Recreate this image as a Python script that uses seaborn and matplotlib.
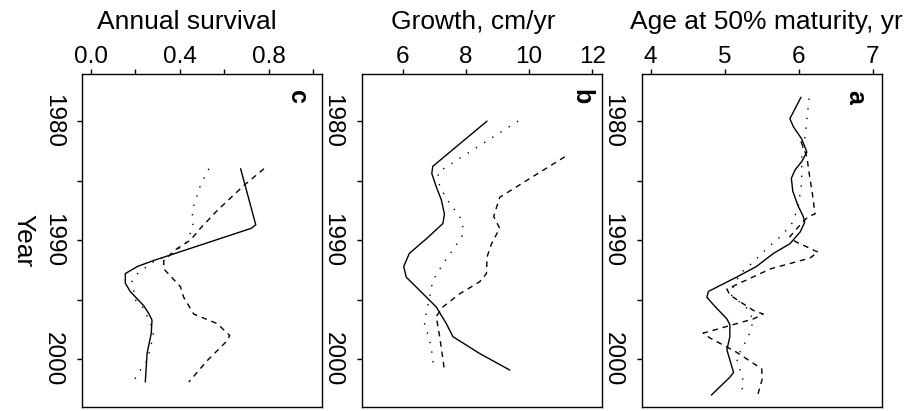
import numpy as np
import pandas as pd
import matplotlib
matplotlib.use("Agg")
import matplotlib.pyplot as plt
import seaborn as sns

# --- panel c: annual survival ---
c_solid_years = [1984.0, 1988.7, 1989.0, 1991.7, 1992.2, 1992.8, 1993.6, 1994.3, 1995.5, 1996.2, 1996.7, 1997.8, 1999.5, 2001.9]
c_solid_vals = [0.674, 0.742, 0.722, 0.283, 0.21, 0.155, 0.155, 0.177, 0.238, 0.262, 0.275, 0.272, 0.253, 0.245]
c_dash_years = [1984.0, 1985.4, 1987.5, 1989.0, 1990.0, 1990.7, 1991.7, 1992.4, 1993.9, 1994.8, 1996.2, 1997.0, 1998.0, 1998.5, 2000.1, 2001.9]
c_dash_vals = [0.779, 0.689, 0.569, 0.493, 0.448, 0.388, 0.328, 0.328, 0.403, 0.418, 0.463, 0.569, 0.625, 0.61, 0.524, 0.441]
c_dot_years = [1984.0, 1985.4, 1987.5, 1988.9, 1990.3, 1991.1, 1991.8, 1992.7, 1993.4, 1995.0, 1995.7, 1997.6, 1998.5, 2000.1, 2000.9, 2001.9]
c_dot_vals = [0.531, 0.493, 0.456, 0.46, 0.426, 0.366, 0.283, 0.215, 0.185, 0.2, 0.237, 0.283, 0.275, 0.253, 0.223, 0.19]

# --- panel b: growth ---
b_solid_years = [1980.0, 1983.8, 1984.4, 1985.5, 1986.6, 1987.8, 1988.6, 1989.9, 1991.1, 1992.2, 1993.1, 1994.2, 1995.6, 1997.0, 1998.1, 1999.5, 2000.9]
b_solid_vals = [8.67, 6.95, 6.92, 7.06, 7.22, 7.32, 7.27, 6.74, 6.21, 6.03, 6.11, 6.53, 7.06, 7.38, 7.59, 8.43, 9.39]
b_dash_years = [1983.0, 1984.3, 1985.7, 1986.4, 1988.0, 1989.0, 1990.3, 1991.4, 1992.8, 1993.5, 1994.5, 1995.6, 1996.4, 1998.1, 2000.9]
b_dash_vals = [11.13, 10.34, 9.49, 9.07, 8.88, 9.07, 8.81, 8.67, 8.65, 8.43, 7.8, 7.27, 7.06, 7.17, 7.32]
b_dot_years = [1980.0, 1984.3, 1985.5, 1986.9, 1988.0, 1988.7, 1989.6, 1990.8, 1992.0, 1993.4, 1994.8, 1996.2, 1997.0, 1998.4, 1999.8, 2000.8]
b_dot_vals = [9.65, 7.11, 7.17, 7.48, 7.8, 7.9, 7.89, 7.59, 7.27, 6.95, 6.85, 6.74, 6.69, 6.85, 6.95, 6.97]

# --- panel a: age at 50% maturity ---
a_solid_years = [1978.0, 1979.8, 1980.5, 1981.5, 1982.6, 1983.4, 1984.1, 1984.8, 1985.9, 1987.1, 1988.0, 1988.5, 1989.3, 1990.3, 1991.1, 1992.2, 1993.1, 1994.3, 1994.8, 1995.7, 1996.6, 1997.1, 1998.1, 1999.2, 2001.1, 2001.5, 2003.0]
a_solid_vals = [6.03, 5.88, 5.93, 6.04, 6.11, 6.04, 5.95, 5.9, 5.92, 5.99, 6.06, 6.08, 6.02, 5.88, 5.66, 5.43, 5.16, 4.78, 4.76, 4.89, 5.03, 5.07, 5.07, 5.03, 5.12, 5.07, 4.82]
a_dash_years = [1981.7, 1983.0, 1984.8, 1985.9, 1987.8, 1988.0, 1988.7, 1989.7, 1990.1, 1991.0, 1991.5, 1992.4, 1994.1, 1994.6, 1995.9, 1996.2, 1996.6, 1997.8, 1998.2, 1999.4, 2000.8, 2001.6, 2002.9]
a_dash_vals = [6.03, 6.11, 6.15, 6.18, 6.22, 6.13, 6.02, 5.88, 5.95, 6.26, 6.15, 5.62, 5.03, 5.07, 5.39, 5.52, 5.39, 4.71, 4.8, 5.16, 5.5, 5.51, 5.45]
a_dot_years = [1978.1, 1979.8, 1981.2, 1982.6, 1985.1, 1987.3, 1988.7, 1989.7, 1990.7, 1991.8, 1992.8, 1994.5, 1995.7, 1996.7, 1998.1, 1999.9, 2000.9, 2001.8, 2002.9]
a_dot_vals = [6.14, 6.11, 6.09, 6.04, 6.04, 5.99, 5.9, 5.75, 5.57, 5.39, 5.21, 5.07, 5.3, 5.39, 5.32, 5.16, 5.21, 5.25, 5.23]

c_ticks = [0.0, 0.2, 0.4, 0.6, 0.8, 1.0]
c_ticklabels = ["0.0", "", "0.4", "", "0.8", ""]
b_ticks = [6, 8, 10, 12]
b_ticklabels = ["6", "8", "10", "12"]
a_ticks = [4, 5, 6, 7]
a_ticklabels = ["4", "5", "6", "7"]
year_ticks = [1980, 1985, 1990, 1995, 2000]
year_ticklabels = ["1980", "", "1990", "", "2000"]

sns.set_theme(style="ticks")
plt.rcParams["font.family"] = ["Liberation Sans", "DejaVu Sans"]
plt.rcParams["text.color"] = "black"
plt.rcParams["xtick.color"] = "black"
plt.rcParams["ytick.color"] = "black"
plt.rcParams["axes.labelcolor"] = "black"

fig = plt.figure(figsize=(9.22, 4.11), dpi=100)

line_styles = {"solid": "-", "dash": (0, (4, 3.5)), "dot": (0, (1, 6))}

panels = [
    dict(left=0.0889, letter="c", title="Annual survival", title_x=0.436, letter_x=0.896,
         xlim=(-0.04, 1.04), ticks=c_ticks, ticklabels=c_ticklabels,
         series=[("solid", c_solid_years, c_solid_vals), ("dash", c_dash_years, c_dash_vals),
                 ("dot", c_dot_years, c_dot_vals)]),
    dict(left=0.3923, letter="b", title="Growth, cm/yr", title_x=0.464, letter_x=0.917,
         xlim=(4.7, 12.3), ticks=b_ticks, ticklabels=b_ticklabels,
         series=[("solid", b_solid_years, b_solid_vals), ("dash", b_dash_years, b_dash_vals),
                 ("dot", b_dot_years, b_dot_vals)]),
    dict(left=0.696, letter="a", title="Age at 50% maturity, yr", title_x=0.521, letter_x=0.889,
         xlim=(3.88, 7.12), ticks=a_ticks, ticklabels=a_ticklabels,
         series=[("solid", a_solid_years, a_solid_vals), ("dash", a_dash_years, a_dash_vals),
                 ("dot", a_dot_years, a_dot_vals)]),
]

for p in panels:
    ax = fig.add_axes([p["left"], 0.0097, 0.2603, 0.8102])
    for style, yrs, vals in p["series"]:
        df = pd.DataFrame({"year": yrs, "value": vals})
        sns.lineplot(data=df, x="value", y="year", sort=False, estimator=None,
                     color="black", linewidth=1.0, linestyle=line_styles[style], ax=ax)
    ax.set_xlim(*p["xlim"])
    ax.set_ylim(2004.0, 1976.05)
    ax.set_xticks(p["ticks"])
    ax.set_xticklabels(p["ticklabels"])
    ax.set_yticks(year_ticks)
    ax.set_yticklabels(year_ticklabels)
    ax.set_xlabel("")
    ax.set_ylabel("")
    ax.tick_params(axis="x", top=True, bottom=False, labeltop=True, labelbottom=False,
                   length=3.6, width=1.0, pad=1, labelsize=17.5, color="black", labelcolor="black")
    ax.tick_params(axis="y", left=True, right=False, length=3.6, width=1.0, pad=9.5,
                   labelsize=17.5, labelrotation=-90, color="black", labelcolor="black")
    for lab in ax.get_yticklabels():
        lab.set_va("center")
    for sp in ax.spines.values():
        sp.set_visible(True)
        sp.set_color("black")
        sp.set_linewidth(1.0)
    ax.text(p["title_x"], 1.156, p["title"], transform=ax.transAxes,
            ha="center", va="center", fontsize=19, color="black")
    ax.text(p["letter_x"], 0.931, p["letter"], transform=ax.transAxes,
            ha="center", va="center", fontsize=18, fontweight="bold", rotation=-90, color="black")

fig.text(23 / 922, 1 - 240.5 / 411, "Year", rotation=-90, ha="center", va="center",
         fontsize=19, color="black")

fig.savefig("out.png", dpi=100)
